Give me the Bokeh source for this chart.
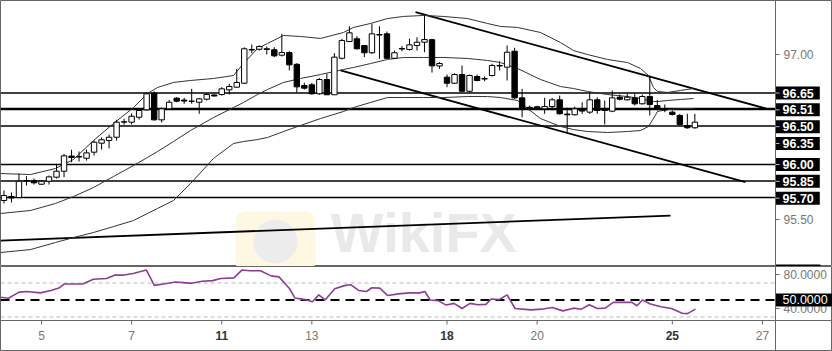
import numpy as np
from bokeh.plotting import figure
from bokeh.layouts import column
from bokeh.models import Range1d, Span
from bokeh.core.properties import value
from bokeh.embed import file_html
from bokeh.resources import INLINE

# ---------------- data ----------------
opens = [95.673, 95.709, 95.700, 95.850, 95.855, 95.821, 95.848, 95.885, 95.939, 96.077,
         96.068, 96.057, 96.112, 96.194, 96.218, 96.248, 96.385, 96.385, 96.430, 96.497,
         96.648, 96.406, 96.506, 96.603, 96.586, 96.574, 96.566, 96.594, 96.632, 96.636,
         96.679, 96.703, 96.739, 97.041, 97.048, 97.052, 97.043, 96.994, 97.018, 96.911,
         96.718, 96.725, 96.643, 96.773, 96.634, 96.966, 97.118, 97.143, 97.082, 97.016,
         97.177, 97.188, 96.966, 97.050, 97.046, 97.082, 97.112, 97.135, 96.896, 96.794,
         96.739, 96.818, 96.666, 96.800, 96.777, 96.809, 96.896, 96.885, 97.030, 96.606,
         96.520, 96.525, 96.506, 96.527, 96.588, 96.459, 96.452, 96.496, 96.476, 96.588,
         96.500, 96.485, 96.612, 96.588, 96.606, 96.552, 96.618, 96.536, 96.496, 96.476,
         96.446, 96.355, 96.334]
highs = [95.764, 95.746, 95.918, 95.894, 95.873, 95.859, 95.900, 96.006, 96.097, 96.134,
         96.118, 96.136, 96.218, 96.246, 96.273, 96.406, 96.416, 96.464, 96.509, 96.657,
         96.666, 96.518, 96.588, 96.612, 96.606, 96.688, 96.606, 96.648, 96.641, 96.703,
         96.734, 96.870, 97.066, 97.091, 97.082, 97.073, 97.066, 97.188, 97.030, 96.921,
         96.743, 96.743, 96.785, 96.825, 97.012, 97.143, 97.257, 97.166, 97.082, 97.279,
         97.257, 97.209, 97.036, 97.076, 97.143, 97.157, 97.355, 97.143, 96.930, 96.818,
         96.830, 96.900, 96.818, 96.818, 96.800, 96.916, 96.939, 97.082, 97.061, 96.688,
         96.536, 96.534, 96.606, 96.606, 96.627, 96.516, 96.527, 96.566, 96.657, 96.612,
         96.582, 96.673, 96.636, 96.643, 96.643, 96.636, 96.809, 96.588, 96.546, 96.491,
         96.461, 96.461, 96.461]
lows = [95.646, 95.655, 95.696, 95.809, 95.818, 95.814, 95.818, 95.873, 95.885, 96.021,
        96.027, 96.036, 96.082, 96.136, 96.146, 96.218, 96.361, 96.364, 96.409, 96.491,
        96.400, 96.382, 96.497, 96.566, 96.552, 96.552, 96.461, 96.582, 96.618, 96.627,
        96.636, 96.697, 96.734, 97.012, 97.036, 97.000, 96.976, 96.982, 96.855, 96.655,
        96.682, 96.634, 96.634, 96.632, 96.632, 96.955, 97.112, 97.046, 96.976, 97.006,
        96.961, 96.961, 96.961, 97.030, 97.036, 97.036, 97.021, 96.836, 96.870, 96.703,
        96.734, 96.659, 96.657, 96.757, 96.757, 96.800, 96.855, 96.764, 96.597, 96.430,
        96.491, 96.503, 96.461, 96.491, 96.455, 96.294, 96.446, 96.461, 96.461, 96.461,
        96.364, 96.476, 96.582, 96.582, 96.536, 96.546, 96.446, 96.491, 96.476, 96.446,
        96.355, 96.325, 96.325]
closes = [95.718, 95.696, 95.848, 95.855, 95.834, 95.848, 95.888, 95.939, 96.079, 96.064,
          96.073, 96.106, 96.203, 96.225, 96.248, 96.385, 96.389, 96.439, 96.491, 96.643,
          96.406, 96.506, 96.566, 96.576, 96.577, 96.577, 96.597, 96.636, 96.623, 96.688,
          96.709, 96.746, 97.052, 97.046, 97.073, 97.046, 96.988, 97.018, 96.906, 96.706,
          96.694, 96.643, 96.773, 96.634, 96.976, 97.127, 97.197, 97.052, 97.016, 97.188,
          97.182, 96.966, 97.016, 97.055, 97.088, 97.112, 97.136, 96.897, 96.918, 96.739,
          96.818, 96.666, 96.809, 96.764, 96.782, 96.900, 96.900, 97.021, 96.606, 96.506,
          96.511, 96.516, 96.527, 96.588, 96.461, 96.452, 96.506, 96.486, 96.588, 96.491,
          96.491, 96.606, 96.594, 96.612, 96.552, 96.618, 96.546, 96.506, 96.500, 96.455,
          96.364, 96.334, 96.385]

# Bollinger bands (trading-day positions, prices)
band_x = [-0.910, -0.244, 0.311, 0.710, 1.154, 1.598, 2.042, 2.352, 2.574, 2.929,
          3.307, 3.817, 4.261, 4.483, 4.794, 5.016, 5.371, 5.748, 6.192, 6.702,
          6.924, 7.301, 7.679, 8.034, 8.478, 8.921, 9.454, 9.898, 10.187, 10.564,
          11.074, 11.518, 11.807, 12.117, 12.561, 13.005, 13.294, 13.471, 13.582, 13.671,
          13.893, 14.181, 14.470]
band_upper = [95.918, 95.909, 95.964, 96.046, 96.218, 96.373, 96.518, 96.646, 96.700, 96.746,
              96.764, 96.782, 96.809, 96.918, 97.055, 97.100, 97.173, 97.164, 97.146, 97.200,
              97.246, 97.282, 97.327, 97.346, 97.355, 97.346, 97.327, 97.282, 97.255, 97.246,
              97.200, 97.109, 97.036, 97.000, 96.955, 96.927, 96.873, 96.809, 96.700, 96.664,
              96.655, 96.673, 96.691]
band_middle = [95.555, 95.582, 95.646, 95.709, 95.791, 95.891, 95.991, 96.064, 96.118, 96.209,
               96.309, 96.427, 96.518, 96.564, 96.636, 96.682, 96.746, 96.782, 96.818, 96.864,
               96.882, 96.918, 96.955, 96.973, 96.973, 96.973, 96.964, 96.946, 96.927, 96.873,
               96.773, 96.709, 96.691, 96.664, 96.636, 96.618, 96.600, 96.582, 96.573, 96.573,
               96.582, 96.591, 96.600]
band_lower = [95.200, 95.227, 95.291, 95.336, 95.382, 95.436, 95.491, 95.555, 95.600, 95.673,
              95.827, 96.055, 96.191, 96.209, 96.227, 96.246, 96.300, 96.355, 96.418, 96.482,
              96.518, 96.564, 96.609, 96.609, 96.609, 96.609, 96.618, 96.618, 96.609, 96.582,
              96.418, 96.346, 96.318, 96.300, 96.291, 96.300, 96.309, 96.346, 96.418, 96.482,
              96.500, 96.509, 96.509]

# support / resistance levels
levels = [96.65, 96.51, 96.50, 96.35, 96.00, 95.85, 95.70]
level_labels = ["96.65", "96.51", "96.50", "96.35", "96.00", "95.85", "95.70"]
price_ticks = [97.0, 95.5]
price_tick_labels = ["97.00", "95.50"]

# trend lines (start / end)
trend_x0 = [8.300, 6.636, -0.910]
trend_y0 = [97.385, 96.855, 95.309]
trend_x1 = [16.105, 15.624, 13.959]
trend_y1 = [96.506, 95.839, 95.536]

# RSI
rsi_x = [-0.910, -0.733, -0.498, -0.321, -0.027, 0.209, 0.385, 0.503, 0.915, 1.150,
         1.445, 1.621, 1.798, 2.034, 2.328, 2.504, 2.740, 2.975, 3.152, 3.328,
         3.564, 3.799, 3.976, 4.270, 4.447, 4.624, 4.859, 5.095, 5.271, 5.507,
         5.624, 5.860, 6.013, 6.154, 6.295, 6.507, 6.743, 6.861, 7.037, 7.214,
         7.331, 7.508, 7.685, 7.920, 8.156, 8.391, 8.509, 8.627, 8.803, 8.980,
         9.156, 9.333, 9.510, 9.686, 9.863, 9.980, 10.157, 10.334, 10.510, 10.863,
         11.099, 11.334, 11.570, 11.805, 11.982, 12.158, 12.335, 12.511, 12.688, 12.865,
         13.100, 13.218, 13.336, 13.512, 13.748, 13.983, 14.219, 14.336, 14.513]
rsi_val = [53.2, 52.0, 59.2, 60.0, 58.4, 61.2, 64.0, 68.8, 68.8, 74.4,
           75.2, 79.2, 79.2, 81.2, 85.2, 67.2, 69.2, 71.2, 70.4, 69.6,
           72.0, 72.8, 75.2, 76.0, 85.2, 84.4, 84.4, 78.4, 77.2, 63.2,
           52.4, 50.4, 48.0, 56.0, 50.0, 63.2, 67.2, 68.0, 61.2, 60.0,
           64.4, 64.0, 55.2, 57.2, 58.4, 58.4, 60.0, 50.0, 49.2, 44.0,
           46.0, 40.0, 46.0, 44.4, 44.8, 51.2, 50.4, 56.0, 40.0, 38.4,
           39.2, 41.2, 37.2, 40.4, 39.2, 44.4, 40.0, 40.4, 47.2, 47.2,
           47.2, 43.2, 50.0, 45.2, 42.0, 40.0, 34.4, 34.0, 39.2]
rsi_levels = [70, 30]
rsi_mid = 50
rsi_ticks = [80, 40]

# date axis (trading-day index, label, bold)
date_ticks = [0, 2, 4, 6, 9, 11, 14, 16]
date_labels = ["5", "7", "11", "13", "18", "20", "25", "27"]
date_bold = [False, False, True, False, True, False, True, False]

# ---------------- layout constants ----------------
FONT = value("Liberation Sans")
X0, X_AXIS, X_END = -0.91, 16.29, 17.555     # left edge, price-axis line, right edge
P_TOP, P_BOT = 97.491, 95.073                # main pane price range
R_TOP, R_BOT, R_AXIS = 89.4, -10.6, 25.87    # RSI pane range and its bottom axis line
AXIS_COL = "#666666"

o = np.array(opens); h = np.array(highs); l = np.array(lows); c = np.array(closes)
pos = np.arange(-5, -5 + len(o)) / 6.0       # 6 four-hour candles per trading day
up = c >= o

xr = Range1d(X0, X_END)

# ---------------- main pane ----------------
p1 = figure(width=832, height=266, x_range=xr, y_range=Range1d(P_BOT, P_TOP),
            x_axis_location=None, y_axis_location=None, toolbar_location=None,
            output_backend="svg", min_border=0)
p1.grid.visible = False
p1.outline_line_color = AXIS_COL

# watermark (logo + text)
p1.rect(x=[5.19], y=[95.30], width=80, height=60, width_units="screen",
        height_units="screen", fill_color="#fef7e2", line_color=None,
        border_radius=10, level="underlay")
p1.scatter(x=[5.19], y=[95.30], size=44, marker="circle", fill_color="#ececec",
           line_color=None, level="underlay")
p1.text(x=[6.42], y=[95.38], text=["WikiFX"], angle=0, text_font=FONT,
        text_font_size="56px", text_font_style="bold", text_color="#e9e9e9",
        text_baseline="middle", level="underlay")

# level lines
n = len(levels)
p1.segment([X0] * n, levels, [X_AXIS] * n, levels, line_color="black", line_width=1.4)

# trend lines
p1.segment(trend_x0, trend_y0, trend_x1, trend_y1, line_color="black", line_width=1.8)

# bands
for b in (band_upper, band_middle, band_lower):
    p1.line(band_x, b, line_color="#333333", line_width=1)

# candles
p1.segment(pos, h, pos, l, line_color="black", line_width=1)
W = 0.12
p1.vbar(x=pos[up], width=W, top=c[up], bottom=o[up], fill_color="white",
        line_color="black", line_width=1)
p1.vbar(x=pos[~up], width=W, top=o[~up], bottom=c[~up], fill_color="black",
        line_color="black", line_width=1)

# price axis
p1.add_layout(Span(location=X_AXIS, dimension="height", line_color=AXIS_COL, line_width=1))
p1.ray(x=[X_AXIS] * len(price_ticks), y=price_ticks, length=4, angle=0,
       length_units="screen", line_color=AXIS_COL)
p1.text(x=[X_AXIS] * len(price_ticks), y=price_ticks, text=price_tick_labels, x_offset=8,
        text_font=FONT, text_font_size="12px", text_color="#777777",
        text_baseline="middle", text_align="left")
p1.ray(x=[X_AXIS], y=[P_BOT + 0.008], length=45, angle=0, length_units="screen",
       line_color="black", line_width=2)

# level price boxes (stacked when they would overlap)
box_h = 0.153
disp = []
for lv in levels:
    disp.append(lv if not disp else min(lv, disp[-1] - box_h))
p1.text(x=[X_AXIS] * n, y=disp, text=level_labels, text_font=FONT,
        text_font_size="12.5px", text_font_style="bold", text_color="white",
        text_align="left", text_baseline="middle", background_fill_color="black",
        padding=dict(left=7, right=6, top=2, bottom=2))
p1.ray(x=[X_AXIS] * n, y=disp, length=4, angle=0, length_units="screen",
       line_color="#bbbbbb")

# ---------------- RSI pane ----------------
p2 = figure(width=832, height=85, x_range=xr, y_range=Range1d(R_BOT, R_TOP),
            x_axis_location=None, y_axis_location=None, toolbar_location=None,
            output_backend="svg", min_border=0)
p2.grid.visible = False
p2.outline_line_color = AXIS_COL

m = len(rsi_levels)
p2.segment([X0] * m, rsi_levels, [X_AXIS] * m, rsi_levels, line_color="#bbbbbb",
           line_width=1, line_dash="4 3")
p2.segment([X0], [rsi_mid], [X_AXIS], [rsi_mid], line_color="black", line_width=2,
           line_dash="9 6")
p2.line(rsi_x, rsi_val, line_color="#8e3d96", line_width=1.6)

p2.add_layout(Span(location=X_AXIS, dimension="height", line_color=AXIS_COL, line_width=1))
p2.add_layout(Span(location=R_AXIS, dimension="width", line_color=AXIS_COL, line_width=1))
p2.ray(x=[X_AXIS] * len(rsi_ticks), y=rsi_ticks, length=4, angle=0,
       length_units="screen", line_color=AXIS_COL)
p2.text(x=[X_AXIS] * len(rsi_ticks), y=rsi_ticks, text=["%.4f" % t for t in rsi_ticks],
        x_offset=8, text_font=FONT, text_font_size="12px", text_color="#777777",
        text_baseline="middle", text_align="left")
p2.text(x=[X_AXIS], y=[rsi_mid], text=["%.4f" % rsi_mid], text_font=FONT,
        text_font_size="12.5px", text_color="white", text_align="left",
        text_baseline="middle", background_fill_color="black",
        padding=dict(left=7, right=8, top=2, bottom=2))

# date axis
nd = len(date_ticks)
p2.ray(x=date_ticks, y=[R_AXIS] * nd, length=4, angle=-np.pi / 2, length_units="screen",
       line_color=AXIS_COL)
norm = [i for i in range(nd) if not date_bold[i]]
bold = [i for i in range(nd) if date_bold[i]]
p2.text(x=[date_ticks[i] for i in norm], y=[R_AXIS] * len(norm),
        text=[date_labels[i] for i in norm], y_offset=15, text_font=FONT,
        text_font_size="12px", text_color="#777777", text_align="center",
        text_baseline="middle")
p2.text(x=[date_ticks[i] for i in bold], y=[R_AXIS] * len(bold),
        text=[date_labels[i] for i in bold], y_offset=15, text_font=FONT,
        text_font_size="12px", text_font_style="bold", text_color="#333333",
        text_align="center", text_baseline="middle")

layout = column(p1, p2, spacing=0)
open("out.html", "w").write(file_html(layout, INLINE))
